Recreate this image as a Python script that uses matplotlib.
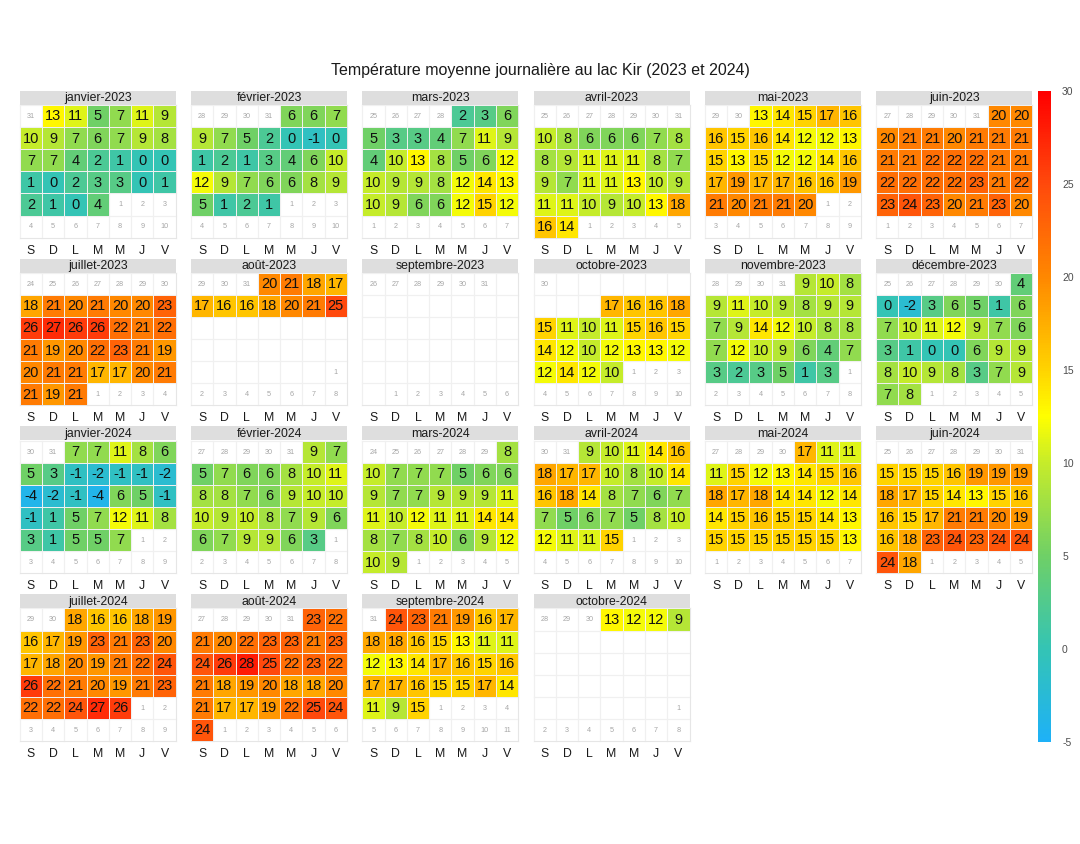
from datetime import date, timedelta

import matplotlib
matplotlib.use("Agg")
import matplotlib.pyplot as plt
import numpy as np
from matplotlib.cm import ScalarMappable
from matplotlib.colors import LinearSegmentedColormap, Normalize

plt.rcParams["font.family"] = ["Liberation Sans", "DejaVu Sans"]
plt.rcParams["axes.unicode_minus"] = False

TITLE = "Température moyenne journalière au lac Kir (2023 et 2024)"
MONTH_NAMES = ["janvier", "février", "mars", "avril", "mai", "juin", "juillet",
               "août", "septembre", "octobre", "novembre", "décembre"]
DAY_LABELS = ["S", "D", "L", "M", "M", "J", "V"]
SCALE_TICKS = [-5, 0, 5, 10, 15, 20, 25, 30]

# température moyenne par jour du mois (None = pas de mesure)
jan_2023 = [13, 11, 5, 7, 11, 9, 10, 9, 7, 6, 7, 9, 8, 7, 7, 4, 2, 1, 0, 0,
            1, 0, 2, 3, 3, 0, 1, 2, 1, 0, 4]
feb_2023 = [6, 6, 7, 9, 7, 5, 2, 0, -1, 0, 1, 2, 1, 3, 4, 6, 10, 12, 9, 7,
            6, 6, 8, 9, 5, 1, 2, 1]
mar_2023 = [2, 3, 6, 5, 3, 3, 4, 7, 11, 9, 4, 10, 13, 8, 5, 6, 12, 10, 9, 9,
            8, 12, 14, 13, 10, 9, 6, 6, 12, 15, 12]
apr_2023 = [10, 8, 6, 6, 6, 7, 8, 8, 9, 11, 11, 11, 8, 7, 9, 7, 11, 11, 13, 10,
            9, 11, 11, 10, 9, 10, 13, 18, 16, 14]
may_2023 = [13, 14, 15, 17, 16, 16, 15, 16, 14, 12, 12, 13, 15, 13, 15, 12, 12,
            14, 16, 17, 19, 17, 17, 16, 16, 19, 21, 20, 21, 21, 20]
jun_2023 = [20, 20, 20, 21, 21, 20, 21, 21, 21, 21, 21, 22, 22, 22, 21, 21, 22,
            22, 22, 22, 23, 21, 22, 23, 24, 23, 20, 21, 23, 20]
jul_2023 = [18, 21, 20, 21, 20, 20, 23, 26, 27, 26, 26, 22, 21, 22, 21, 19, 20,
            22, 23, 21, 19, 20, 21, 21, 17, 17, 20, 21, 21, 19, 21]
aug_2023 = [20, 21, 18, 17, 17, 16, 16, 18, 20, 21, 25] + [None] * 20
sep_2023 = [None] * 30
oct_2023 = [None] * 9 + [17, 16, 16, 18, 15, 11, 10, 11, 15, 16, 15, 14, 12,
                         10, 12, 13, 13, 12, 12, 14, 12, 10]
nov_2023 = [9, 10, 8, 9, 11, 10, 9, 8, 9, 9, 7, 9, 14, 12, 10, 8, 8, 7, 12, 10,
            9, 6, 4, 7, 3, 2, 3, 5, 1, 3]
dec_2023 = [4, 0, -2, 3, 6, 5, 1, 6, 7, 10, 11, 12, 9, 7, 6, 3, 1, 0, 0, 6, 9,
            9, 8, 10, 9, 8, 3, 7, 9, 7, 8]
jan_2024 = [7, 7, 11, 8, 6, 5, 3, -1, -2, -1, -1, -2, -4, -2, -1, -4, 6, 5, -1,
            -1, 1, 5, 7, 12, 11, 8, 3, 1, 5, 5, 7]
feb_2024 = [9, 7, 5, 7, 6, 6, 8, 10, 11, 8, 8, 7, 6, 9, 10, 10, 10, 9, 10, 8,
            7, 9, 6, 6, 7, 9, 9, 6, 3]
mar_2024 = [8, 10, 7, 7, 7, 5, 6, 6, 9, 7, 7, 9, 9, 9, 11, 11, 10, 12, 11, 11,
            14, 14, 8, 7, 8, 10, 6, 9, 12, 10, 9]
apr_2024 = [9, 10, 11, 14, 16, 18, 17, 17, 10, 8, 10, 14, 16, 18, 14, 8, 7, 6,
            7, 7, 5, 6, 7, 5, 8, 10, 12, 11, 11, 15]
may_2024 = [17, 11, 11, 11, 15, 12, 13, 14, 15, 16, 18, 17, 18, 14, 14, 12, 14,
            14, 15, 16, 15, 15, 14, 13, 15, 15, 15, 15, 15, 15, 13]
jun_2024 = [15, 15, 15, 16, 19, 19, 19, 18, 17, 15, 14, 13, 15, 16, 16, 15, 17,
            21, 21, 20, 19, 16, 18, 23, 24, 23, 24, 24, 24, 18]
jul_2024 = [18, 16, 16, 18, 19, 16, 17, 19, 23, 21, 23, 20, 17, 18, 20, 19, 21,
            22, 24, 26, 22, 21, 20, 19, 21, 23, 22, 22, 24, 27, 26]
aug_2024 = [23, 22, 21, 20, 22, 23, 23, 21, 23, 24, 26, 28, 25, 22, 23, 22, 21,
            18, 19, 20, 18, 18, 20, 21, 17, 17, 19, 22, 25, 24, 24]
sep_2024 = [24, 23, 21, 19, 16, 17, 18, 18, 16, 15, 13, 11, 11, 12, 13, 14, 17,
            16, 15, 16, 17, 17, 16, 15, 15, 17, 14, 11, 9, 15]
oct_2024 = [13, 12, 12, 9] + [None] * 27

MONTHS = [
    (2023, 1, jan_2023), (2023, 2, feb_2023), (2023, 3, mar_2023),
    (2023, 4, apr_2023), (2023, 5, may_2023), (2023, 6, jun_2023),
    (2023, 7, jul_2023), (2023, 8, aug_2023), (2023, 9, sep_2023),
    (2023, 10, oct_2023), (2023, 11, nov_2023), (2023, 12, dec_2023),
    (2024, 1, jan_2024), (2024, 2, feb_2024), (2024, 3, mar_2024),
    (2024, 4, apr_2024), (2024, 5, may_2024), (2024, 6, jun_2024),
    (2024, 7, jul_2024), (2024, 8, aug_2024), (2024, 9, sep_2024),
    (2024, 10, oct_2024),
]

VMIN, VMAX = -5, 30
ANCHORS = [(-5, "#1eb1f7"), (0, "#34c4b4"), (5, "#6fd066"), (10, "#c6ec2a"),
           (12.5, "#ffff00"), (15, "#ffd400"), (20, "#ff8800"),
           (25, "#ff4a0c"), (30, "#ff0000")]
cmap = LinearSegmentedColormap.from_list(
    "kir", [((v - VMIN) / (VMAX - VMIN), c) for v, c in ANCHORS])
norm = Normalize(VMIN, VMAX)

W, H = 1080, 844
LINE = "#e6e6e6"


def px_box(x, y, w, h):
    return [x / W, 1 - (y + h) / H, w / W, h / H]


def month_grid(year, month, temps):
    start = date(year, month, 1) - timedelta(days=1)
    start -= timedelta(days=(start.weekday() - 5) % 7)
    vals = np.full((6, 7), np.nan)
    other = []
    for k in range(42):
        d = start + timedelta(days=k)
        r, c = divmod(k, 7)
        if d.month == month:
            t = temps[d.day - 1]
            if t is not None:
                vals[r, c] = t
        else:
            other.append((r, c, d.day))
    return vals, other


fig = plt.figure(figsize=(W / 100, H / 100), dpi=100)
fig.text(0.5, 1 - 70 / H, TITLE, ha="center", va="center", fontsize=11.5,
         color="#1a1a1a")

for i, (year, month, temps) in enumerate(MONTHS):
    col, row = i % 6, i // 6
    x = 19.7 + col * 171.3
    top = 90.7 + row * 167.8

    sax = fig.add_axes(px_box(x, top, 156, 14))
    sax.set_facecolor("#dedede")
    sax.set_xticks([])
    sax.set_yticks([])
    for s in sax.spines.values():
        s.set_visible(False)
    sax.text(0.5, 0.45, f"{MONTH_NAMES[month - 1]}-{year}", ha="center",
             va="center", fontsize=8.8, color="#1a1a1a", transform=sax.transAxes)

    ax = fig.add_axes(px_box(x, top + 14.3, 156, 132.6))
    vals, other = month_grid(year, month, temps)
    for k in range(8):
        ax.axvline(k, color=LINE, lw=0.8, zorder=0, clip_on=False)
    for k in range(7):
        ax.axhline(k, color=LINE, lw=0.8, zorder=0, clip_on=False)
    ax.pcolormesh(np.arange(8), np.arange(7), np.ma.masked_invalid(vals),
                  cmap=cmap, norm=norm, edgecolors="#f0f0f0", linewidth=0.6,
                  zorder=1)
    for r in range(6):
        for c in range(7):
            if not np.isnan(vals[r, c]):
                ax.text(c + 0.5, r + 0.52, f"{int(vals[r, c])}", ha="center",
                        va="center", fontsize=10.5, color="#111111", zorder=2)
    for r, c, day in other:
        ax.text(c + 0.5, r + 0.52, str(day), ha="center", va="center",
                fontsize=5.2, color="#a6a6a6", zorder=2)
    ax.set_xlim(0, 7)
    ax.set_ylim(6, 0)
    ax.set_xticks(np.arange(7) + 0.5, DAY_LABELS)
    ax.set_yticks([])
    ax.tick_params(length=0, pad=5, labelsize=8.8, labelcolor="#1a1a1a")
    for s in ax.spines.values():
        s.set_visible(False)

cax = fig.add_axes(px_box(1038, 91, 13, 651))
cb = fig.colorbar(ScalarMappable(norm=norm, cmap=cmap), cax=cax,
                  ticks=SCALE_TICKS)
cb.outline.set_visible(False)
cax.tick_params(length=0, labelsize=7.5, labelcolor="#4d4d4d", pad=8)

fig.savefig("out.png", dpi=100)
